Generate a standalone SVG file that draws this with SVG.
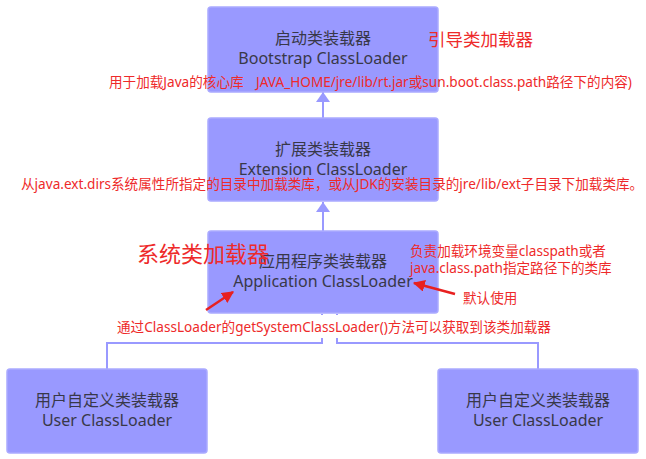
<svg xmlns="http://www.w3.org/2000/svg" width="646" height="459" viewBox="0 0 646 459">
<style>
.box{fill:#9999ff;stroke:#aaaaff;stroke-width:1.5}
.t{font-family:"Noto Sans","Noto Sans CJK SC",sans-serif;font-size:16px;fill:#383848;text-anchor:middle}
.r{font-family:"Noto Sans","Noto Sans CJK SC",sans-serif;font-size:13.6px;fill:#ee2a2a}
.c{fill:none;stroke:#9999ff;stroke-width:2}
.ra{stroke:#e82020;stroke-width:2.5;fill:none}
</style>
<defs>
<marker id="ah" viewBox="0 0 10 14" refX="10" refY="7" markerWidth="10" markerHeight="14" markerUnits="userSpaceOnUse" orient="auto">
<path d="M0,0 L10,7 L0,14 z" fill="#9999ff"/>
</marker>
<marker id="rh" viewBox="0 0 10 10" refX="9" refY="5" markerWidth="12" markerHeight="12" markerUnits="userSpaceOnUse" orient="auto">
<path d="M0,0 L10,5 L0,10 z" fill="#e82020"/>
</marker>
</defs>
<rect width="646" height="459" fill="#fff"/>
<g id="connectors">
<line class="c" x1="323" y1="118" x2="323" y2="92" marker-end="url(#ah)"/>
<line class="c" x1="323" y1="231" x2="323" y2="202" marker-end="url(#ah)"/>
<polyline class="c" points="107,369 107,343 322,343 322,314" marker-end="url(#ah)"/>
<polyline class="c" points="538,369 538,343 337,343 337,314" marker-end="url(#ah)"/>
</g>
<g id="bootstrap">
<rect class="box" x="208" y="7" width="230" height="85" rx="3"/>
<text class="t" x="323" y="44">启动类装载器</text>
<text class="t" x="323" y="64">Bootstrap ClassLoader</text>
</g>
<g id="extension">
<rect class="box" x="208" y="118" width="230" height="83" rx="3"/>
<text class="t" x="323" y="155">扩展类装载器</text>
<text class="t" x="323" y="175">Extension ClassLoader</text>
</g>
<g id="application">
<rect class="box" x="208" y="231" width="230" height="82" rx="3"/>
<text class="t" x="323" y="267">应用程序类装载器</text>
<text class="t" x="323" y="287">Application ClassLoader</text>
</g>
<g id="user1">
<rect class="box" x="7" y="369" width="200" height="84" rx="3"/>
<text class="t" x="107" y="406">用户自定义类装载器</text>
<text class="t" x="107" y="426">User ClassLoader</text>
</g>
<g id="user2">
<rect class="box" x="438" y="369" width="200" height="84" rx="3"/>
<text class="t" x="538" y="406">用户自定义类装载器</text>
<text class="t" x="538" y="426">User ClassLoader</text>
</g>
<g id="annotations">
<text class="r" x="428" y="46" style="font-size:17.5px">引导类加载器</text>
<text class="r" x="109" y="87">用于加载Java的核心库</text>
<text class="r" x="256" y="87">JAVA_HOME/jre/lib/rt.jar或sun.boot.class.path路径下的内容)</text>
<text class="r" x="21" y="189">从java.ext.dirs系统属性所指定的目录中加载类库，或从JDK的安装目录的jre/lib/ext子目录下加载类库。</text>
<text class="r" x="137" y="262" style="font-size:22px">系统类加载器</text>
<text class="r" x="410" y="256">负责加载环境变量classpath或者</text>
<text class="r" x="410" y="273">java.class.path指定路径下的类库</text>
<text class="r" x="463" y="303">默认使用</text>
<rect x="114" y="315" width="445" height="23" fill="#fff"/>
<text class="r" x="117" y="332">通过ClassLoader的getSystemClassLoader()方法可以获取到该类加载器</text>
<line class="ra" x1="206" y1="310" x2="233" y2="292" marker-end="url(#rh)"/>
<line class="ra" x1="455" y1="294" x2="414" y2="283" marker-end="url(#rh)"/>
</g>
</svg>
